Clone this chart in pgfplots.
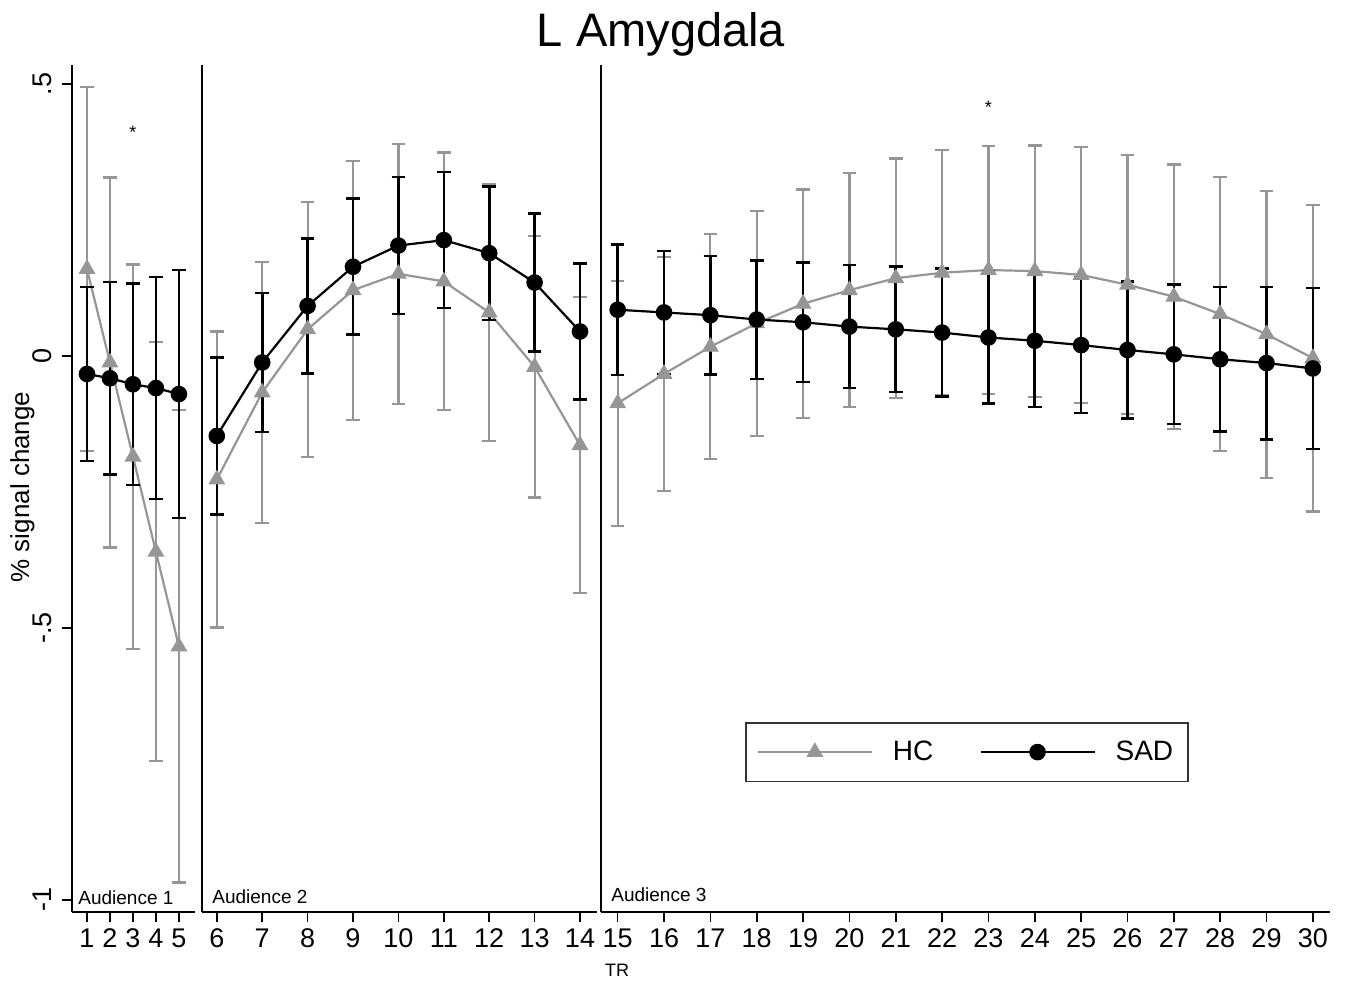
\documentclass[border=0pt]{standalone}
\usepackage{fontspec}
\setmainfont{Liberation Sans}
\usepackage{pgfplots}
\usepackage{pgfplotstable}
\pgfplotsset{compat=1.18}
\definecolor{hcgray}{RGB}{150,150,150}

\pgfplotstableread{
x hc hce sad sade
1 0.160 0.335 -0.033 0.160
2 -0.012 0.340 -0.041 0.177
3 -0.185 0.353 -0.052 0.185
4 -0.360 0.385 -0.059 0.204
5 -0.534 0.434 -0.070 0.228
}\tabA
\pgfplotstableread{
x hc hce sad sade
6 -0.227 0.272 -0.147 0.144
7 -0.067 0.240 -0.012 0.128
8 0.049 0.234 0.092 0.124
9 0.121 0.238 0.164 0.125
10 0.151 0.239 0.203 0.126
11 0.137 0.237 0.213 0.125
12 0.080 0.236 0.189 0.123
13 -0.020 0.240 0.135 0.127
14 -0.164 0.272 0.045 0.125
}\tabB
\pgfplotstableread{
x hc hce sad sade
15 -0.087 0.225 0.085 0.120
16 -0.033 0.215 0.080 0.113
17 0.017 0.207 0.075 0.109
18 0.060 0.207 0.067 0.109
19 0.096 0.210 0.062 0.110
20 0.121 0.215 0.054 0.113
21 0.143 0.220 0.049 0.115
22 0.153 0.225 0.043 0.118
23 0.158 0.228 0.034 0.121
24 0.156 0.231 0.028 0.122
25 0.149 0.235 0.020 0.125
26 0.131 0.238 0.011 0.126
27 0.109 0.243 0.003 0.128
28 0.077 0.252 -0.006 0.133
29 0.040 0.264 -0.013 0.140
30 -0.004 0.282 -0.023 0.148
}\tabC

\pgfplotsset{
  panel/.style={
    scale only axis, height=423.5pt, ymin=-1.0221, ymax=0.5349,
    axis x line=bottom, axis y line=left,
    axis line style={-, line width=0.8pt, black},
    tick align=outside, major tick length=5pt,
    tick style={line width=0.8pt, black},
    xticklabel style={font=\fontsize{13.5}{16}\selectfont},
    yticklabel style={font=\fontsize{13.5}{16}\selectfont},
    minor tick num=0,
    clip=false, anchor=south west,
  },
  hcplot/.style={color=hcgray, line width=1.1pt, mark=triangle*, mark size=4.4pt,
    mark options={solid, fill=hcgray, draw=hcgray, line width=0.5pt},
    error bars/.cd, y dir=both, y explicit,
    error bar style={line width=1.1pt, color=hcgray},
    error mark options={rotate=90, mark size=3.4pt, line width=1.1pt, color=hcgray}},
  sadplot/.style={color=black, line width=1.1pt, mark=*, mark size=3.6pt,
    mark options={solid, fill=black, draw=black},
    error bars/.cd, y dir=both, y explicit,
    error bar style={line width=1.3pt, color=black},
    error mark options={rotate=90, mark size=3.4pt, line width=1.3pt, color=black}},
}

\begin{document}
\begin{tikzpicture}
\useasboundingbox (0,0) rectangle (672.5pt,490.5pt);

% Panel 1
\begin{axis}[panel, at={(36pt,34.5pt)}, width=61.5pt,
  xmin=0.348, xmax=5.70,
  xtick={1,2,3,4,5}, xticklabels={1,2,3,4,5},
  ytick={-1,-0.5,0,0.5}, yticklabels={-1,-.5,0,.5},
  yticklabel style={xshift=-5.5pt, rotate=90, anchor=base, inner sep=0pt},
]
\addplot[hcplot] table[x=x, y=hc, y error=hce] {\tabA};
\addplot[sadplot] table[x=x, y=sad, y error=sade] {\tabA};
\node[anchor=base, font=\fontsize{9}{10}\selectfont] at (axis cs:3,0.399) {*};
\end{axis}

% Panel 2
\begin{axis}[panel, at={(101pt,34.5pt)}, width=197.5pt,
  xmin=5.674, xmax=14.374,
  xtick={6,...,14}, xticklabels={6,7,8,9,10,11,12,13,14},
  ytick=\empty,
]
\addplot[hcplot] table[x=x, y=hc, y error=hce] {\tabB};
\addplot[sadplot] table[x=x, y=sad, y error=sade] {\tabB};
\end{axis}

% Panel 3
\begin{axis}[panel, at={(300.5pt,34.5pt)}, width=364.5pt,
  xmin=14.64, xmax=30.37,
  xtick={15,...,30}, xticklabels={15,16,17,18,19,20,21,22,23,24,25,26,27,28,29,30},
  ytick=\empty,
  legend columns=2,
  legend style={at={(0.1975,0.2243)}, anchor=north west, draw=black!80,
    line width=0.8pt, inner xsep=5.5pt, inner ysep=7pt,
    font=\fontsize{14}{16}\selectfont,
    /tikz/every odd column/.append style={column sep=8pt},
    /tikz/every even column/.append style={column sep=21pt}},
  legend image code/.code={\draw[mark repeat=2,mark phase=2,#1] plot coordinates {(0pt,0pt) (28.5pt,0pt) (57pt,0pt)};},
]
\addplot[hcplot] table[x=x, y=hc, y error=hce] {\tabC};
\addlegendentry{HC}
\addplot[sadplot] table[x=x, y=sad, y error=sade] {\tabC};
\addlegendentry{SAD}
\node[anchor=base, font=\fontsize{9}{10}\selectfont] at (axis cs:23,0.445) {*};
\end{axis}

% Texts
\node[anchor=base, font=\fontsize{23.5}{28}\selectfont] at (330.5pt,467pt) {L Amygdala};
\node[anchor=base, font=\fontsize{9}{10}\selectfont] at (308.5pt,2.5pt) {TR};
\node[rotate=90, anchor=base, font=\fontsize{13}{15}\selectfont] at (14.5pt,247pt) {\% signal change};
\node[anchor=base west, inner sep=0pt, font=\fontsize{9.5}{11}\selectfont] at (39pt,38pt) {Audience 1};
\node[anchor=base west, inner sep=0pt, font=\fontsize{9.5}{11}\selectfont] at (106pt,39pt) {Audience 2};
\node[anchor=base west, inner sep=0pt, font=\fontsize{9.5}{11}\selectfont] at (305.5pt,40pt) {Audience 3};
\end{tikzpicture}
\end{document}
